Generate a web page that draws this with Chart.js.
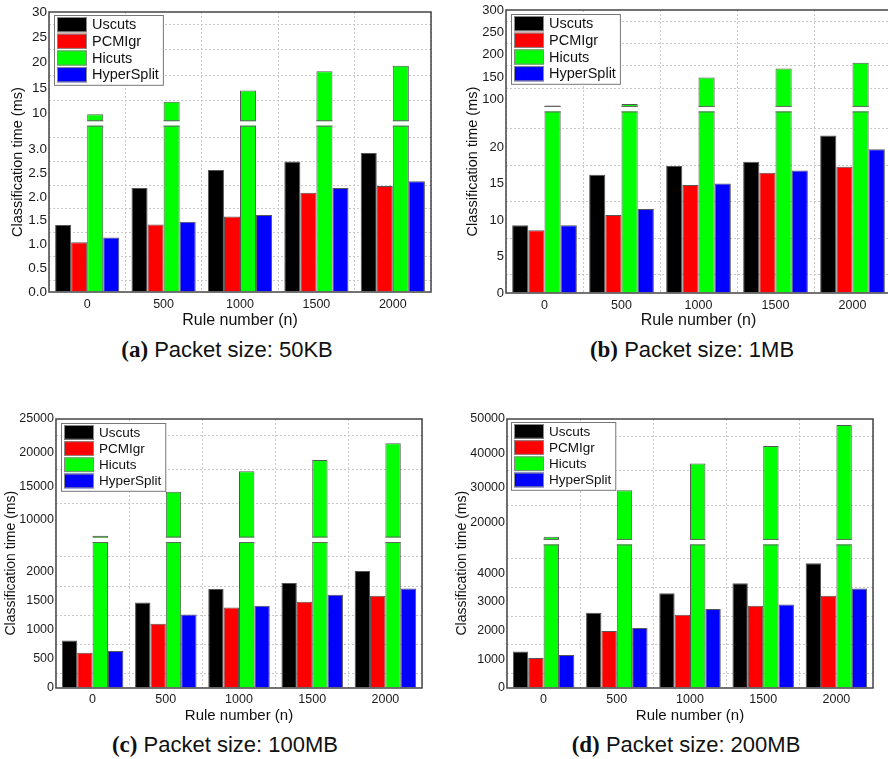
<!DOCTYPE html>
<html><head><meta charset="utf-8">
<script src="https://cdn.jsdelivr.net/npm/chart.js@4.4.1/dist/chart.umd.min.js"></script>
<style>
html,body{margin:0;padding:0;background:#fff;overflow:hidden;}
#page{position:relative;width:888px;height:759px;overflow:hidden;background:#fff;}
canvas{position:absolute;}
.cap{position:absolute;transform:translate(-50%,-50%);white-space:nowrap;color:#111;
  font-family:'Liberation Sans Narrow','Liberation Sans',Arial,sans-serif;font-size:22px;}
.cap b{font-family:'Liberation Serif','Times New Roman',serif;font-weight:bold;font-size:23px;}
</style></head>
<body>
<div id="page">
  <canvas id="cA" width="440" height="330" style="left:0;top:0"></canvas>
  <canvas id="cB" width="455" height="330" style="left:440px;top:0"></canvas>
  <canvas id="cC" width="440" height="330" style="left:0;top:400px"></canvas>
  <canvas id="cD" width="448" height="330" style="left:440px;top:400px"></canvas>
  <div class="cap" style="left:227px;top:350px"><b>(a)</b> Packet size: 50KB</div>
  <div class="cap" style="left:692px;top:350px"><b>(b)</b> Packet size: 1MB</div>
  <div class="cap" style="left:225px;top:745px"><b>(c)</b> Packet size: 100MB</div>
  <div class="cap" style="left:686px;top:745px"><b>(d)</b> Packet size: 200MB</div>
</div>
<script>
// ---------- data ----------
const categories = ['0', '500', '1000', '1500', '2000'];
const seriesNames = ['Uscuts', 'PCMIgr', 'Hicuts', 'HyperSplit'];
const seriesColors = ['#000000', '#ff0000', '#00ff00', '#0000ff'];
const xTitle = 'Rule number (n)';
const yTitle = 'Classification time (ms)';

// (a) Packet size: 50KB
const uscutsA = [1.41, 2.19, 2.57, 2.75, 2.93];
const pcmigrA = [1.05, 1.42, 1.59, 2.09, 2.23];
const hicutsA = [9.8, 12.3, 14.5, 18.3, 19.4];
const hypersplitA = [1.15, 1.48, 1.62, 2.19, 2.33];
const yLowTicksA = ['0.0', '0.5', '1.0', '1.5', '2.0', '2.5', '3.0'];
const yHighTicksA = ['10', '15', '20', '25', '30'];

// (b) Packet size: 1MB
const uscutsB = [9.3, 16.2, 17.4, 18.0, 21.6];
const pcmigrB = [8.6, 10.7, 14.8, 16.5, 17.3];
const hicutsB = [86, 89.5, 149, 169, 182];
const hypersplitB = [9.3, 11.5, 15.0, 16.8, 19.7];
const yLowTicksB = ['0', '5', '10', '15', '20'];
const yHighTicksB = ['100', '150', '200', '250', '300'];

// (c) Packet size: 100MB
const uscutsC = [817, 1469, 1697, 1800, 2006];
const pcmigrC = [606, 1103, 1383, 1480, 1583];
const hicutsC = [7620, 14160, 17230, 18910, 21390];
const hypersplitC = [634, 1263, 1411, 1600, 1709];
const yLowTicksC = ['0', '500', '1000', '1500', '2000'];
const yHighTicksC = ['10000', '15000', '20000', '25000'];

// (d) Packet size: 200MB
const uscutsD = [1275, 2620, 3304, 3652, 4348];
const pcmigrD = [1043, 1983, 2551, 2864, 3212];
const hicutsD = [15740, 29290, 37040, 42170, 48270];
const hypersplitD = [1148, 2087, 2748, 2910, 3467];
const yLowTicksD = ['0', '1000', '2000', '3000', '4000'];
const yHighTicksD = ['20000', '30000', '40000', '50000'];

// ---------- broken (two-segment) linear scale ----------
class BrokenScale extends Chart.LinearScale {
  static id = 'broken';
  determineDataLimits() { const b = this.options.brk; this.min = 0; this.max = b.max; }
  buildTicks() {
    const b = this.options.brk;
    const t = [];
    const add = (labels, lo, hi) => {
      const vals = labels.map(Number);
      vals.forEach((v, i) => t.push({ value: v, txt: labels[i], grid: false }));
      const step = vals[1] - vals[0];
      for (let v = vals[0] - step / 2; v < hi - step * 0.15; v += step) {
        if (v > lo + step * 0.15) t.push({ value: v, txt: '', grid: true });
      }
    };
    add(b.lowLabels, 0, b.lowMax);
    add(b.highLabels, b.highMin, b.max);
    t.sort((p, q) => p.value - q.value);
    return t;
  }
  _brkDecimal(v) {
    const b = this.options.brk;
    if (v <= b.lowMax) return (v / b.lowMax) * b.frac;
    return b.frac + ((v - b.highMin) / (b.max - b.highMin)) * (1 - b.frac);
  }
  getPixelForValue(v) { return this.getPixelForDecimal(this._brkDecimal(v)); }
  getValueForPixel(p) {
    const b = this.options.brk;
    const d = this.getDecimalForPixel(p);
    if (d <= b.frac) return d / b.frac * b.lowMax;
    return b.highMin + (d - b.frac) / (1 - b.frac) * (b.max - b.highMin);
  }
}
Chart.register(BrokenScale);

Chart.defaults.font.family = "'Liberation Sans', Arial, sans-serif";
Chart.defaults.color = '#1a1a1a';

// ---------- decorations: axis break, inner legend, frame ----------
const decorPlugin = {
  id: 'decor',
  afterDatasetsDraw(chart, args, o) {
    const ctx = chart.ctx, a = chart.chartArea, ys = chart.scales.y, b = ys.options.brk;
    const yb = ys.getPixelForDecimal(b.frac), h = 4.5;
    chart.data.datasets.forEach((ds, di) => {
      chart.getDatasetMeta(di).data.forEach((bar, i) => {
        if (ds.data[i] <= b.lowMax) return;
        const p = bar.getProps(['x', 'width'], true);
        const x0 = p.x - p.width / 2, x1 = p.x + p.width / 2;
        ctx.save();
        ctx.fillStyle = '#ffffff';
        ctx.fillRect(x0 - 1.5, yb - h / 2, p.width + 3, h);
        ctx.strokeStyle = '#666'; ctx.lineWidth = 1;
        ctx.beginPath();
        ctx.moveTo(x0, yb - h / 2 - 0.5); ctx.lineTo(x1, yb - h / 2 - 0.5);
        ctx.moveTo(x0, yb + h / 2 + 0.5); ctx.lineTo(x1, yb + h / 2 + 0.5);
        ctx.stroke();
        ctx.restore();
      });
    });
    ctx.save();
    ctx.font = o.size + "px 'Liberation Sans', Arial, sans-serif";
    const items = chart.data.datasets.map(d => ({ text: d.label, color: d.backgroundColor }));
    const tw = Math.max(...items.map(it => ctx.measureText(it.text).width));
    const lx = Math.round(a.left + o.dx), ly = Math.round(a.top + o.dy);
    const lw = 3 + o.sw + 5 + tw + 4, lh = items.length * o.rowH + 3;
    ctx.fillStyle = '#fff'; ctx.fillRect(lx, ly, lw, lh);
    ctx.strokeStyle = '#777'; ctx.lineWidth = 1; ctx.strokeRect(lx + 0.5, ly + 0.5, lw, lh);
    items.forEach((it, k) => {
      const ry = ly + 2 + k * o.rowH;
      ctx.fillStyle = it.color; ctx.fillRect(lx + 3, ry, o.sw, o.rowH - 1.5);
      ctx.strokeStyle = '#888'; ctx.strokeRect(lx + 3.5, ry + 0.5, o.sw - 1, o.rowH - 2.5);
      ctx.fillStyle = '#111'; ctx.textBaseline = 'middle'; ctx.textAlign = 'left';
      ctx.fillText(it.text, lx + 3 + o.sw + 5, ry + o.rowH / 2);
    });
    ctx.strokeStyle = '#444'; ctx.lineWidth = 1.5;
    ctx.strokeRect(a.left, a.top, a.right - a.left, a.bottom - a.top);
    ctx.restore();
  }
};

function makeChart(id, series, lowLabels, highLabels, L) {
  return new Chart(document.getElementById(id), {
    type: 'bar',
    data: {
      labels: categories,
      datasets: series.map((d, i) => ({
        label: seriesNames[i], data: d, backgroundColor: seriesColors[i],
        borderColor: '#555', borderWidth: 1,
        barPercentage: 1.0, categoryPercentage: 0.84
      }))
    },
    plugins: [decorPlugin],
    options: {
      responsive: false, animation: false, events: [],
      layout: { padding: { top: L.padTop, right: L.padRight, bottom: 0, left: 0 } },
      plugins: {
        legend: { display: false }, tooltip: { enabled: false },
        decor: { size: L.legSize, dx: L.legDx, dy: L.legDy, rowH: L.legRow, sw: 30 }
      },
      scales: {
        x: {
          type: 'category', offset: true,
          grid: { offset: true, color: '#c8c8c8', lineWidth: 1, drawTicks: false },
          border: { display: false, dash: [2, 2] },
          ticks: { font: { size: 12.5 }, padding: L.xTickPad, color: '#1a1a1a' },
          title: { display: true, text: xTitle, font: { size: L.xTitleSize }, color: '#111',
                   padding: { top: 0, bottom: L.xTitlePad } },
          afterFit: s => { s.height = L.xH; }
        },
        y: {
          type: 'broken',
          brk: { lowLabels, highLabels, lowMax: L.lowMax, highMin: L.highMin, max: Number(highLabels[highLabels.length - 1]), frac: L.frac },
          grid: { color: c => (c.tick && c.tick.grid) ? '#c8c8c8' : 'rgba(0,0,0,0)', drawTicks: false, lineWidth: 1 },
          border: { display: false, dash: [2, 2] },
          ticks: { autoSkip: false, font: { size: L.yTickSize }, padding: 2, color: '#1a1a1a',
                   callback: (v, i, t) => t[i].txt },
          title: { display: true, text: yTitle + '     ', font: { size: L.yTitleSize }, color: '#111',
                   padding: { top: L.yTitlePad, bottom: 0 } },
          afterFit: s => { s.width = L.yW; }
        }
      }
    }
  });
}

makeChart('cA', [uscutsA, pcmigrA, hicutsA, hypersplitA], yLowTicksA, yHighTicksA,
  { padTop: 12, padRight: 9, xH: 38, yW: 49, xTickPad: 5, xTitleSize: 16, xTitlePad: 0,
    yTickSize: 13.5, yTitleSize: 14.5, yTitlePad: 9.3, lowMax: 3.55, highMin: 8, frac: 0.602,
    legSize: 14.5, legDx: 5, legDy: 3, legRow: 16.7 });
makeChart('cB', [uscutsB, pcmigrB, hicutsB, hypersplitB], yLowTicksB, yHighTicksB,
  { padTop: 10, padRight: 4, xH: 37, yW: 66, xTickPad: 5, xTitleSize: 16, xTitlePad: 0,
    yTickSize: 13, yTitleSize: 14.5, yTitlePad: 24.3, lowMax: 25.2, highMin: 78, frac: 0.6495,
    legSize: 14.5, legDx: 4.7, legDy: 4, legRow: 16.7 });
makeChart('cC', [uscutsC, pcmigrC, hicutsC, hypersplitC], yLowTicksC, yHighTicksC,
  { padTop: 19, padRight: 18, xH: 42, yW: 56, xTickPad: 4, xTitleSize: 15, xTitlePad: 5,
    yTickSize: 12.5, yTitleSize: 14, yTitlePad: 2.6, lowMax: 2543, highMin: 7030, frac: 0.551,
    legSize: 13.5, legDx: 4.7, legDy: 4, legRow: 16.2 });
makeChart('cD', [uscutsD, pcmigrD, hicutsD, hypersplitD], yLowTicksD, yHighTicksD,
  { padTop: 19, padRight: 15, xH: 42, yW: 67, xTickPad: 4, xTitleSize: 15, xTitlePad: 5,
    yTickSize: 12.5, yTitleSize: 14, yTitlePad: 13.3, lowMax: 5078, highMin: 14190, frac: 0.542,
    legSize: 13.5, legDx: 4.3, legDy: 3, legRow: 16.2 });
</script>
</body></html>
